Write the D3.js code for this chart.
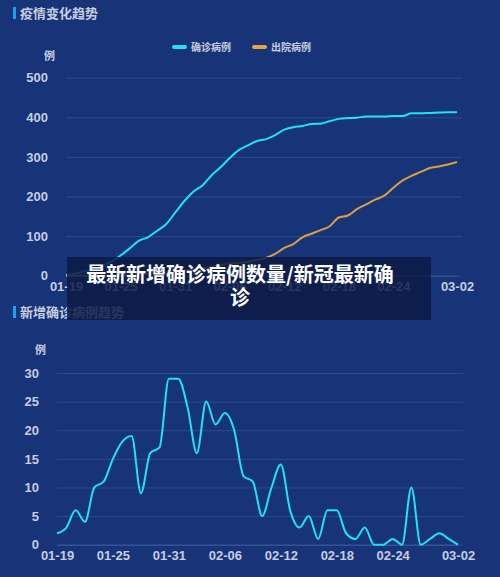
<!DOCTYPE html><html><head><meta charset="utf-8"><script src="https://cdn.jsdelivr.net/npm/d3@7"></script>
<style>body{margin:0;background:#183479;}svg{display:block;font-family:"Noto Sans CJK SC",sans-serif}</style></head><body><svg width="500" height="577"></svg>
<script>
const dates=["01-19","01-20","01-21","01-22","01-23","01-24","01-25","01-26","01-27","01-28","01-29","01-30","01-31","02-01","02-02","02-03","02-04","02-05","02-06","02-07","02-08","02-09","02-10","02-11","02-12","02-13","02-14","02-15","02-16","02-17","02-18","02-19","02-20","02-21","02-22","02-23","02-24","02-25","02-26","02-27","02-28","02-29","03-01","03-02"];
const tickLabels=["01-19","01-25","01-31","02-06","02-12","02-18","02-24","03-02"];
const confirmed=[2,5,11,15,25,36,51,69,88,97,113,130,159,188,212,228,253,274,297,317,329,340,345,355,369,375,378,383,384,390,396,398,399,402,402,402,403,403,410,410,411,412,413,413];
const discharged=[0,0,0,1,1,2,2,3,4,5,7,9,11,13,16,19,23,27,31,32,35,40,45,55,70,80,97,106,115,125,147,152,168,180,192,202,222,240,252,262,272,276,281,287];
const daily=[2,3,6,4,10,11,15,18,19,9,16,17,29,29,24,16,25,21,23,20,12,11,5,10,14,6,3,5,1,6,6,2,1,3,0,0,1,0,10,0,1,2,1,0];
const svg=d3.select("svg");
const txt="#c5cde0", grid="#2c4a8e";
function title(y,t){svg.append("rect").attr("x",13).attr("y",y-10).attr("width",3).attr("height",12).attr("fill","#1aa3e8");
 svg.append("text").attr("x",20).attr("y",y+1).attr("fill",txt).attr("font-size",13).attr("font-weight","bold").text(t);}
function chart(top,bottom,x0,x1,ymax,series,colors,unitY){
 const x=d3.scalePoint().domain(dates).range([x0,x1]);
 const y=d3.scaleLinear().domain([0,ymax]).range([bottom,top]);
 const g=svg.append("g");
 const ax=d3.axisLeft(y).tickValues(d3.range(0,ymax+0.1,ymax/(ymax==500?5:6))).tickSize(0).tickPadding(10);
 const a=g.append("g").attr("transform",`translate(${x0-8},0)`).call(ax);
 a.select(".domain").remove();a.selectAll("text").attr("fill",txt).attr("font-size",13).attr("font-weight","bold");
 a.selectAll(".tick").append("line").attr("x1",8).attr("x2",x1-x0+8+5).attr("stroke",grid);
 const bx=d3.axisBottom(x).tickValues(tickLabels).tickSize(0).tickPadding(6);
 const b=g.append("g").attr("transform",`translate(0,${bottom})`).call(bx);
 b.select(".domain").attr("stroke","#3d5a9c");b.selectAll("text").attr("fill",txt).attr("font-size",13).attr("font-weight","bold");
 g.append("text").attr("x",x0-22).attr("y",unitY).attr("fill",txt).attr("font-size",11).attr("font-weight","bold").text("例");
 series.forEach((s,i)=>g.append("path").datum(s).attr("fill","none").attr("stroke",colors[i]).attr("stroke-width",2)
  .attr("d",d3.line().x((d,j)=>x(dates[j])).y(d=>y(d)).curve(d3.curveMonotoneX)));
}
title(17,"疫情变化趋势");
const leg=[["确诊病例","#20e3ee",172],["出院病例","#e8a33d",252]];
leg.forEach(([t,c,lx])=>{svg.append("rect").attr("x",lx).attr("y",45).attr("width",15).attr("height",4).attr("rx",2).attr("fill",c);
 svg.append("text").attr("x",lx+19).attr("y",51).attr("fill",txt).attr("font-size",10).attr("font-weight","bold").text(t);});
chart(77.7,275.7,66,457,500,[confirmed,discharged],["#20e3ee","#d9a040"],60);
title(316,"新增确诊病例趋势");
chart(373,544.7,57,458,30,[daily],["#20e3ee"],354);
svg.append("rect").attr("x",67).attr("y",257).attr("width",364).attr("height",63).attr("fill","#0c1b45").attr("opacity",0.85);
svg.append("text").attr("x",240).attr("y",282).attr("text-anchor","middle").attr("fill","#fff").attr("font-size",20).attr("font-weight","bold").text("最新新增确诊病例数量/新冠最新确");
svg.append("text").attr("x",240).attr("y",305).attr("text-anchor","middle").attr("fill","#fff").attr("font-size",20).attr("font-weight","bold").text("诊");
</script></body></html>
